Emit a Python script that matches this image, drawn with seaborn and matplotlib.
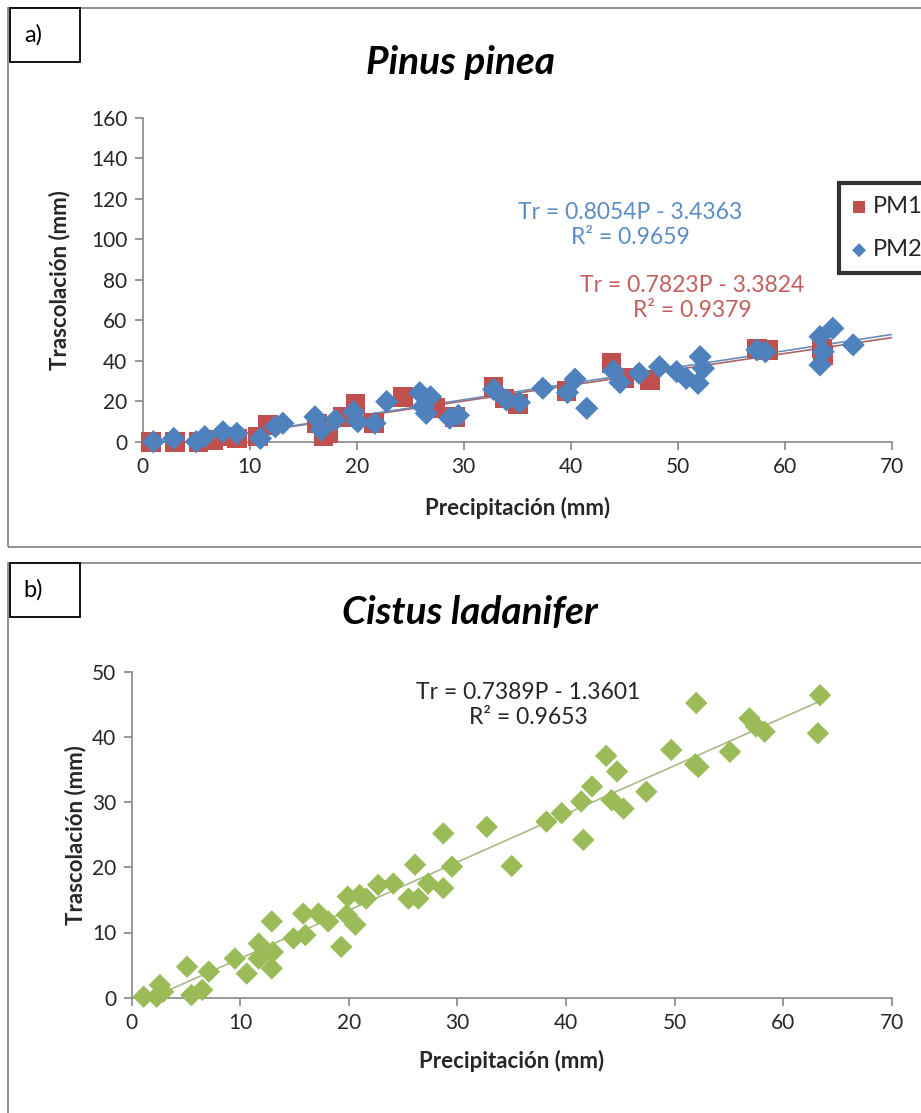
import matplotlib
matplotlib.use("Agg")
import matplotlib.pyplot as plt
import seaborn as sns
import numpy as np
from matplotlib.patches import Rectangle

# ---------------- data ----------------
pm1_x = [0.8, 3.0, 5.2, 6.6, 8.3, 8.8, 10.8, 11.7, 16.3, 16.9, 17.3, 18.7, 19.9, 21.6,
         24.3, 26.9, 27.3, 29.2, 32.8, 33.8, 35.1, 39.6, 43.8, 45.0, 47.4, 57.4, 58.5,
         63.5, 63.6]
pm1_y = [0.0, 0.0, 0.0, 0.8, 2.5, 1.6, 2.5, 8.2, 9.0, 2.5, 4.1, 12.3, 18.5, 9.1,
         22.2, 17.3, 16.5, 12.3, 27.0, 21.4, 18.5, 25.0, 39.0, 31.3, 30.5, 46.1, 45.3,
         46.1, 42.8]

pm2_x = [1.0, 2.9, 5.0, 5.8, 7.5, 8.8, 11.0, 12.4, 13.1, 16.1, 16.7, 18.0, 19.7, 20.1,
         21.7, 22.8, 25.9, 26.2, 26.5, 26.9, 28.7, 29.5, 32.8, 34.0, 35.2, 37.4, 39.7,
         40.4, 41.5, 44.0, 44.6, 46.4, 48.3, 49.9, 50.8, 51.9, 52.1, 52.4, 57.4, 58.2,
         63.3, 63.3, 63.6, 64.5, 66.4]
pm2_y = [0.0, 1.6, 0.0, 2.5, 4.9, 4.1, 1.6, 7.4, 9.1, 12.3, 5.8, 10.7, 14.8, 9.9,
         9.1, 19.8, 24.2, 17.3, 14.0, 22.2, 11.6, 13.0, 25.8, 20.6, 19.4, 26.4, 24.3,
         30.9, 16.5, 35.0, 29.2, 33.8, 37.0, 34.6, 31.3, 28.8, 42.0, 36.2, 45.3, 44.4,
         51.9, 37.9, 44.4, 56.0, 47.8]

cl_x = [1.1, 2.3, 2.6, 2.9, 5.1, 5.5, 6.5, 7.1, 9.5, 10.6, 11.7, 11.7, 12.9, 12.9, 13.0,
        14.9, 15.8, 16.0, 17.2, 18.1, 19.3, 19.8, 19.9, 20.6, 21.0, 21.6, 22.7, 24.1,
        25.5, 26.1, 26.4, 27.3, 28.7, 28.7, 29.5, 32.7, 35.0, 38.2, 39.6, 41.4, 41.6,
        42.4, 43.7, 44.2, 44.7, 45.3, 47.4, 49.7, 52.0, 52.2, 51.9, 55.1, 56.9, 57.5,
        58.3, 63.4, 63.2]
cl_y = [0.15, 0.15, 1.95, 0.9, 4.75, 0.4, 1.2, 4.0, 6.0, 3.7, 8.3, 6.0, 11.7, 4.5, 7.0,
        9.1, 12.9, 9.6, 12.9, 11.7, 7.8, 12.7, 15.5, 11.2, 15.75, 15.2, 17.3, 17.5,
        15.2, 20.4, 15.2, 17.5, 25.2, 16.8, 20.1, 26.2, 20.2, 27.0, 28.3, 30.1, 24.2,
        32.4, 37.1, 30.3, 34.7, 29.0, 31.6, 38.0, 45.2, 35.4, 35.8, 37.7, 42.85, 41.6,
        40.8, 46.4, 40.55]

fit_pm1 = (0.7823, -3.3824)
fit_pm2 = (0.8054, -3.4363)
fit_cl = (0.7389, -1.3601)

eq_pm1 = "Tr = 0.7823P - 3.3824\nR² = 0.9379"
eq_pm2 = "Tr = 0.8054P - 3.4363\nR² = 0.9659"
eq_cl = "Tr = 0.7389P - 1.3601\nR² = 0.9653"

# ---------------- style ----------------
sns.set_theme(style="white")
plt.rcParams['font.family'] = ['Lato', 'DejaVu Sans']

RED = '#C0504D'
BLUE = '#4F81BD'
GREEN = '#9BBB59'
AXC = '#868686'
TXT = '#262626'

W, H = 921, 1113
fig = plt.figure(figsize=(W / 100, H / 100), dpi=100)
fig.patch.set_facecolor('white')


def fx(px):
    return px / W


def fy(py):
    return 1 - py / H


def style_axes(ax, xmax, ymax, ystep):
    ax.set_xlim(0, xmax)
    ax.set_ylim(0, ymax)
    ax.set_xticks(np.arange(0, xmax + 1, 10))
    ax.set_yticks(np.arange(0, ymax + 1, ystep))
    for s in ['top', 'right']:
        ax.spines[s].set_visible(False)
    for s in ['left', 'bottom']:
        ax.spines[s].set_color(AXC)
        ax.spines[s].set_linewidth(1.2)
    ax.tick_params(axis='both', direction='out', length=6, width=1.2, color=AXC,
                   labelsize=15, labelcolor=TXT, pad=5)
    ax.tick_params(left=True, bottom=True)
    ax.grid(False)
    ax.set_facecolor('none')


# ---------------- frames ----------------
fig.add_artist(Rectangle((fx(8), fy(547)), fx(W + 5) - fx(8), fy(8) - fy(547),
                         transform=fig.transFigure, fill=False, ec='#7F7F7F', lw=1.2))
fig.add_artist(Rectangle((fx(8), fy(H + 5)), fx(W + 5) - fx(8), fy(563) - fy(H + 5),
                         transform=fig.transFigure, fill=False, ec='#7F7F7F', lw=1.2))
for top, lab in [(8, 'a)'), (563, 'b)')]:
    fig.add_artist(Rectangle((fx(10), fy(top + 54)), fx(80) - fx(10), fy(top) - fy(top + 54),
                             transform=fig.transFigure, fill=True, fc='white', ec='black', lw=1.3))
    fig.text(fx(33), fy(top + 27), lab, ha='center', va='center', fontsize=17, color='black')

# ---------------- panel a ----------------
ax1 = fig.add_axes([fx(142.7), fy(441.7), fx(891.7) - fx(142.7), fy(117.7) - fy(441.7)])
xx = np.array([0, 70])
ax1.plot(xx, fit_pm1[0] * xx + fit_pm1[1], color='#A86464', lw=1.2, zorder=3)
ax1.plot(xx, fit_pm2[0] * xx + fit_pm2[1], color='#6C8DB8', lw=1.2, zorder=3)
sns.scatterplot(x=pm1_x, y=pm1_y, ax=ax1, marker='s', s=200, color=RED, edgecolor='none',
                label='PM1', clip_on=False, zorder=4)
sns.scatterplot(x=pm2_x, y=pm2_y, ax=ax1, marker='D', s=140, color=BLUE, edgecolor='none',
                label='PM2', clip_on=False, zorder=5)
style_axes(ax1, 70, 160, 20)
ax1.set_xlabel('Precipitación (mm)', fontsize=16, fontweight='bold', color=TXT)
ax1.set_ylabel('Trascolación (mm)', fontsize=16, fontweight='bold', color=TXT)
ax1.xaxis.set_label_coords(0.5, -0.17)
ax1.yaxis.set_label_coords(-0.097, 0.5)
leg = ax1.legend(loc='upper left', bbox_to_anchor=(fx(839), fy(183)),
                 bbox_transform=fig.transFigure, fontsize=17, frameon=True,
                 fancybox=False, markerscale=0.6, handlelength=0.6, handletextpad=0.3,
                 labelspacing=0.95, borderpad=0.55, borderaxespad=0)
leg.get_frame().set_edgecolor('black')
leg.get_frame().set_linewidth(3)
for t in leg.get_texts():
    t.set_color(TXT)
fig.text(fx(460), fy(62), 'Pinus pinea', ha='center', va='center', fontsize=28,
         fontweight='bold', fontstyle='italic', color='black')
fig.text(fx(630), fy(225), eq_pm2, ha='center', va='center', fontsize=16.5,
         color='#5B8CC6', linespacing=1.2, multialignment='center')
fig.text(fx(692), fy(298), eq_pm1, ha='center', va='center', fontsize=16.5,
         color='#C2605D', linespacing=1.2, multialignment='center')

# ---------------- panel b ----------------
ax2 = fig.add_axes([fx(131.7), fy(997.7), fx(891.7) - fx(131.7), fy(671.7) - fy(997.7)])
xb = np.array([min(cl_x), max(cl_x)])
ax2.plot(xb, fit_cl[0] * xb + fit_cl[1], color='#A8B98A', lw=1.2, zorder=3)
sns.scatterplot(x=cl_x, y=cl_y, ax=ax2, marker='D', s=130, color=GREEN, edgecolor='none',
                clip_on=False, zorder=4)
style_axes(ax2, 70, 50, 10)
ax2.set_xlabel('Precipitación (mm)', fontsize=16, fontweight='bold', color=TXT)
ax2.set_ylabel('Trascolación (mm)', fontsize=16, fontweight='bold', color=TXT)
ax2.xaxis.set_label_coords(0.5, -0.16)
ax2.yaxis.set_label_coords(-0.06, 0.5)
fig.text(fx(470), fy(612), 'Cistus ladanifer', ha='center', va='center', fontsize=28,
         fontweight='bold', fontstyle='italic', color='black')
fig.text(fx(528), fy(705), eq_cl, ha='center', va='center', fontsize=16.5,
         color=TXT, linespacing=1.2, multialignment='center')

fig.savefig('out.png', dpi=100, facecolor='white')
